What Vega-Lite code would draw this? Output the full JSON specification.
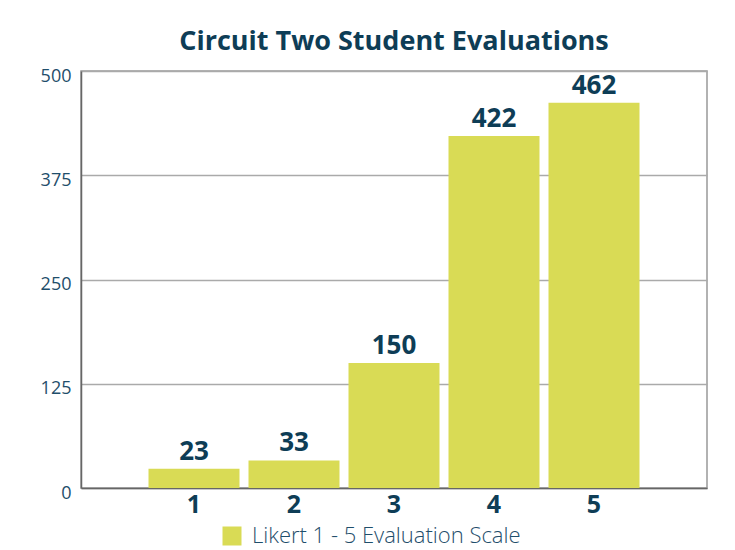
{
  "$schema": "https://vega.github.io/schema/vega-lite/v6.json",
  "width": 626,
  "height": 417,
  "autosize": "none",
  "padding": {"left": 81, "top": 71, "right": 28, "bottom": 62},
  "background": "white",
  "title": {
    "text": "Circuit Two Student Evaluations",
    "font": "Open Sans",
    "fontSize": 27,
    "fontWeight": "bold",
    "color": "#0e3d56",
    "anchor": "middle",
    "offset": 11
  },
  "data": {
    "values": [
      {"rating": "1", "count": 23},
      {"rating": "2", "count": 33},
      {"rating": "3", "count": 150},
      {"rating": "4", "count": 422},
      {"rating": "5", "count": 462}
    ]
  },
  "encoding": {
    "x": {
      "field": "rating",
      "type": "ordinal",
      "scale": {"paddingInner": 0.09, "paddingOuter": 0.675},
      "axis": {
        "title": null,
        "labelAngle": 0,
        "ticks": false,
        "domain": true,
        "domainColor": "#666666",
        "domainWidth": 1.5,
        "labelFont": "Open Sans",
        "labelFontSize": 25,
        "labelFontWeight": "bold",
        "labelColor": "#0e3d56",
        "labelBaseline": "top",
        "labelPadding": 4
      }
    },
    "y": {
      "field": "count",
      "type": "quantitative",
      "scale": {"domain": [0, 500]},
      "axis": {
        "title": null,
        "values": [0, 125, 250, 375, 500],
        "ticks": false,
        "domain": true,
        "domainColor": "#666666",
        "domainWidth": 1.5,
        "grid": true,
        "gridColor": "#aaaaaa",
        "gridWidth": 1.5,
        "labelFont": "Open Sans",
        "labelFontSize": 18,
        "labelFontWeight": "normal",
        "labelColor": "#1f4e6b",
        "labelBaseline": "top",
        "labelOffset": -4,
        "labelPadding": 10
      }
    }
  },
  "layer": [
    {
      "mark": {"type": "bar"},
      "encoding": {
        "color": {
          "datum": "Likert 1 - 5 Evaluation Scale",
          "scale": {"range": ["#d9db55"]},
          "legend": {
            "title": null,
            "orient": "none",
            "legendX": 140,
            "legendY": 454,
            "padding": 0,
            "direction": "horizontal",
            "symbolType": "square",
            "symbolSize": 361,
            "symbolStrokeWidth": 0,
            "labelFont": "Open Sans",
            "labelFontSize": 22,
            "labelFontWeight": 300,
            "labelColor": "#1f4e6b",
            "labelLimit": 0,
            "labelOffset": 9
          }
        }
      }
    },
    {
      "mark": {
        "type": "text",
        "baseline": "alphabetic",
        "align": "center",
        "dy": -9,
        "font": "Open Sans",
        "fontSize": 26,
        "fontWeight": "bold",
        "color": "#0e3d56"
      },
      "encoding": {"text": {"field": "count", "type": "quantitative"}}
    }
  ],
  "config": {
    "view": {"stroke": "#999999", "strokeWidth": 1.5}
  }
}
